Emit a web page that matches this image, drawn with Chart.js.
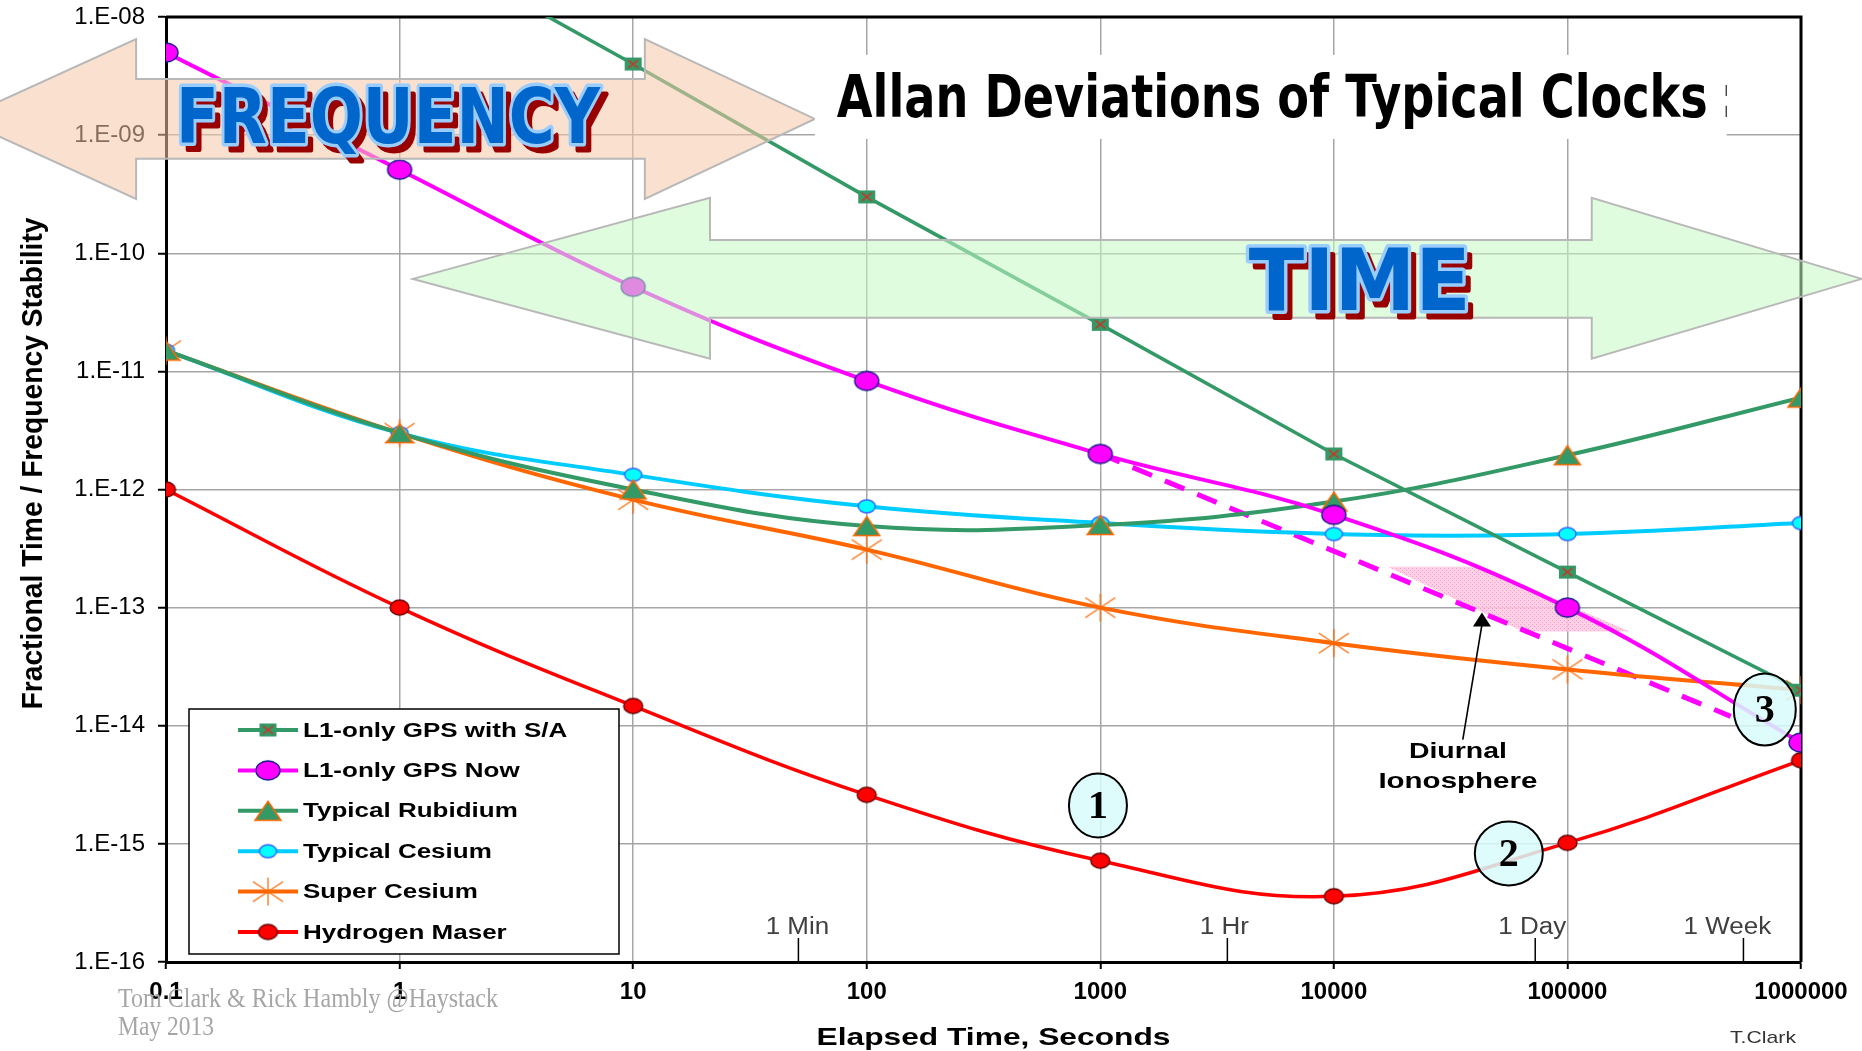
<!DOCTYPE html>
<html>
<head>
<meta charset="utf-8">
<title>Allan Deviations of Typical Clocks</title>
<script src="https://cdn.jsdelivr.net/npm/chart.js@4.4.1/dist/chart.umd.min.js"></script>
<style>
    html, body { margin: 0; padding: 0; background: #fff; }
    #wrap { width: 1862px; height: 1051px; }
</style>
</head>
<body>
<div id="wrap"><canvas id="allan" width="1862" height="1051"></canvas></div>
<script>
// averaging time (seconds)
var tauSeconds = [0.1, 1, 10, 100, 1000, 10000, 100000, 1000000];

// Allan deviations
var gpsWithSA     = [null, 5.0e-8, 4.0e-9, 3.0e-10, 2.5e-11, 2.0e-12, 2.0e-13, 2.0e-14];
var gpsNow        = [5.0e-9, 5.1e-10, 5.2e-11, 8.3e-12, 2.0e-12, 6.1e-13, 1.0e-13, 7.2e-15];
var rubidium      = [1.5e-11, 3.0e-12, 1.0e-12, 4.9e-13, 5.0e-13, 7.9e-13, 1.95e-12, 6.0e-12];
var cesium        = [1.5e-11, 3.0e-12, 1.33e-12, 7.2e-13, 5.2e-13, 4.2e-13, 4.2e-13, 5.2e-13];
var superCesium   = [1.5e-11, 3.0e-12, 8.2e-13, 3.1e-13, 1.0e-13, 5.0e-14, 3.0e-14, 2.0e-14];
var hydrogenMaser = [1.0e-12, 1.0e-13, 1.47e-14, 2.6e-15, 7.2e-16, 3.6e-16, 1.02e-15, 5.1e-15];

// dashed L1 trend below the diurnal ionosphere bump
var ionoTrendTau = [1000, 500000];
var ionoTrendDev = [2.0e-12, 1.2e-14];

var seriesNames = ['L1-only GPS with S/A', 'L1-only GPS Now', 'Typical Rubidium',
                   'Typical Cesium', 'Super Cesium', 'Hydrogen Maser'];

var xTickValues = [0.1, 1, 10, 100, 1000, 10000, 100000, 1000000];
var xTickLabels = ['0.1', '1', '10', '100', '1000', '10000', '100000', '1000000'];
var yTickValues = [1e-16, 1e-15, 1e-14, 1e-13, 1e-12, 1e-11, 1e-10, 1e-9, 1e-8];
var yTickLabels = ['1.E-16', '1.E-15', '1.E-14', '1.E-13', '1.E-12', '1.E-11', '1.E-10', '1.E-09', '1.E-08'];

// human time marks along the bottom axis
var timeMarkSeconds = [51, 3500, 72800, 567000];
var timeMarkLabels = ['1 Min', '1 Hr', '1 Day', '1 Week'];

(function() {
    /**
     * Build a small canvas used as a point style.
     */
    function makeMarker(w, h, paint) {
        var c = document.createElement('canvas');
        c.width = w;
        c.height = h;
        paint(c.getContext('2d'), w / 2, h / 2);
        return c;
    }

    function ellipseMarker(rx, ry, fill, stroke) {
        return makeMarker(Math.ceil(rx * 2 + 4), Math.ceil(ry * 2 + 4), function(g, cx, cy) {
            g.beginPath();
            g.ellipse(cx, cy, rx, ry, 0, 0, Math.PI * 2);
            g.fillStyle = fill;
            g.fill();
            g.lineWidth = 1.4;
            g.strokeStyle = stroke;
            g.stroke();
        });
    }

    var markSA = makeMarker(19, 15, function(g, cx, cy) {
        g.fillStyle = '#339966';
        g.fillRect(1, 1, 17, 13);
        g.strokeStyle = '#e8231f';
        g.lineWidth = 1.2;
        g.beginPath();
        g.moveTo(cx - 5, cy - 4); g.lineTo(cx + 5, cy + 4);
        g.moveTo(cx + 5, cy - 4); g.lineTo(cx - 5, cy + 4);
        g.stroke();
    });
    var markNow = ellipseMarker(12, 9.5, '#ff00ff', '#1a1a8c');
    var markRb = makeMarker(30, 24, function(g, cx, cy) {
        g.beginPath();
        g.moveTo(cx, 2.5);
        g.lineTo(cx + 13, 21.5);
        g.lineTo(cx - 13, 21.5);
        g.closePath();
        g.fillStyle = '#339966';
        g.fill();
        g.lineWidth = 1.5;
        g.strokeStyle = '#ff6600';
        g.stroke();
    });
    var markCs = ellipseMarker(8.5, 6.5, '#00ffff', '#3366ff');
    var markSC = makeMarker(34, 32, function(g, cx, cy) {
        g.strokeStyle = '#ff6600';
        g.lineWidth = 1.2;
        g.beginPath();
        g.moveTo(cx, cy - 14); g.lineTo(cx, cy + 14);
        g.moveTo(cx - 15, cy - 10); g.lineTo(cx + 15, cy + 10);
        g.moveTo(cx - 15, cy + 10); g.lineTo(cx + 15, cy - 10);
        g.stroke();
    });
    var markHM = ellipseMarker(9.5, 7.5, '#ff0000', '#660000');

    function points(xs, ys) {
        return xs.map(function(x, i) { return {x: x, y: ys[i]}; });
    }

    function series(label, data, color, width, marker, tension) {
        return {
            label: label,
            data: points(tauSeconds, data),
            borderColor: color,
            backgroundColor: color,
            borderWidth: width,
            pointStyle: marker,
            pointRadius: 10,
            tension: tension
        };
    }

    // decoration positions are given in decades: [log10(seconds), log10(deviation)]
    var freqArrow = {tipL: -1.878, baseL: -1.128, baseR: 1.05, tipR: 1.778,
                     headTop: -8.186, shaftTop: -8.525, mid: -8.863, shaftBot: -9.201, headBot: -9.540};
    var timeArrow = {tipL: 0.057, baseL: 1.329, baseR: 5.104, tipR: 6.26,
                     headTop: -9.531, shaftTop: -9.887, mid: -10.217, shaftBot: -10.547, headBot: -10.893};
    var ionoPatch = [[4.230, -12.653], [4.625, -12.653], [5.267, -13.203], [4.809, -13.203]];
    var ionoPointer = {tip: [4.634, -13.042], tail: [4.552, -14.117]};
    var circled = [
        {text: '1', at: [2.99, -14.675], rx: 29, ry: 32},
        {text: '2', at: [4.749, -15.081], rx: 34, ry: 32},
        {text: '3', at: [5.845, -13.863], rx: 31, ry: 36}
    ];

    function X(chart, lx) { return chart.scales.x.getPixelForValue(Math.pow(10, lx)); }
    function Y(chart, ly) { return chart.scales.y.getPixelForValue(Math.pow(10, ly)); }

    /**
     * Fill text squeezed or stretched horizontally.
     */
    function stretchText(ctx, text, x, y, font, color, align, opt) {
        opt = opt || {};
        ctx.save();
        ctx.font = font;
        ctx.fillStyle = color;
        ctx.textAlign = 'left';
        ctx.textBaseline = opt.baseline || 'alphabetic';
        var w = ctx.measureText(text).width;
        var sx = opt.width ? opt.width / w : (opt.sx || 1);
        var shift = align === 'center' ? -w * sx / 2 : (align === 'right' ? -w * sx : 0);
        ctx.translate(x + shift, y);
        ctx.scale(sx, 1);
        ctx.fillText(text, 0, 0);
        ctx.restore();
    }

    function drawDoubleArrow(ctx, chart, a, fill) {
        var tl = X(chart, a.tipL), bl = X(chart, a.baseL), br = X(chart, a.baseR), tr = X(chart, a.tipR);
        var ht = Y(chart, a.headTop), st = Y(chart, a.shaftTop), m = Y(chart, a.mid),
            sb = Y(chart, a.shaftBot), hb = Y(chart, a.headBot);
        ctx.save();
        ctx.beginPath();
        ctx.moveTo(tl, m);
        ctx.lineTo(bl, ht);
        ctx.lineTo(bl, st);
        ctx.lineTo(br, st);
        ctx.lineTo(br, ht);
        ctx.lineTo(tr, m);
        ctx.lineTo(br, hb);
        ctx.lineTo(br, sb);
        ctx.lineTo(bl, sb);
        ctx.lineTo(bl, hb);
        ctx.closePath();
        ctx.fillStyle = fill;
        ctx.fill();
        ctx.lineWidth = 2;
        ctx.strokeStyle = '#b8b8b8';
        ctx.stroke();
        ctx.restore();
    }

    function drawWordArt(ctx, text, left, right, baseline, cap) {
        var size = cap / 0.73;
        ctx.save();
        ctx.font = 'bold ' + size + 'px "DejaVu Sans"';
        var w = ctx.measureText(text).width;
        var sx = (right - left) / w;
        ctx.translate(left, baseline);
        ctx.scale(sx, 1);
        ctx.lineJoin = 'round';
        ctx.fillStyle = '#990000';
        ctx.strokeStyle = '#990000';
        ctx.lineWidth = 5;
        ctx.strokeText(text, 6 / sx, 7);
        ctx.fillText(text, 6 / sx, 7);
        ctx.strokeStyle = '#99ccff';
        ctx.lineWidth = 7;
        ctx.strokeText(text, 0, 0);
        ctx.fillStyle = '#0066cc';
        ctx.fillText(text, 0, 0);
        ctx.restore();
    }

    function hatchPattern(ctx) {
        var c = document.createElement('canvas');
        c.width = 4;
        c.height = 4;
        var g = c.getContext('2d');
        g.fillStyle = '#ffc8e2';
        g.fillRect(0, 0, 4, 4);
        g.fillStyle = '#f48cc0';
        g.fillRect(0, 0, 1, 1);
        g.fillRect(2, 2, 1, 1);
        return ctx.createPattern(c, 'repeat');
    }

    var decorPlugin = {
        id: 'decor',
        beforeDraw: function(chart) {
            var ctx = chart.ctx;
            ctx.save();
            ctx.fillStyle = '#fff';
            ctx.fillRect(0, 0, chart.width, chart.height);
            ctx.restore();
        },
        beforeDatasetsDraw: function(chart) {
            var ctx = chart.ctx, ca = chart.chartArea;

            // diurnal ionosphere patch
            ctx.save();
            ctx.beginPath();
            ionoPatch.forEach(function(p, i) {
                var px = X(chart, p[0]), py = Y(chart, p[1]);
                if (i === 0) ctx.moveTo(px, py); else ctx.lineTo(px, py);
            });
            ctx.closePath();
            ctx.globalAlpha = 0.85;
            ctx.fillStyle = hatchPattern(ctx);
            ctx.fill();
            ctx.restore();

            // top and right frame
            ctx.save();
            ctx.strokeStyle = '#000';
            ctx.lineWidth = 3;
            ctx.beginPath();
            ctx.moveTo(ca.left, ca.top);
            ctx.lineTo(ca.right, ca.top);
            ctx.lineTo(ca.right, ca.bottom);
            ctx.stroke();
            ctx.restore();
        },
        afterDatasetsDraw: function(chart) {
            var ctx = chart.ctx, ca = chart.chartArea;

            // big frequency / time arrows
            drawDoubleArrow(ctx, chart, freqArrow, 'rgba(245, 200, 168, 0.55)');
            drawDoubleArrow(ctx, chart, timeArrow, 'rgba(196, 250, 196, 0.55)');
            drawWordArt(ctx, 'FREQUENCY', X(chart, -0.957), X(chart, 0.858), Y(chart, -9.066), 56);
            drawWordArt(ctx, 'TIME', X(chart, 3.636), X(chart, 4.586), Y(chart, -10.479), 62);

            // title box
            var bx = X(chart, 1.778), bx2 = X(chart, 5.682), by = Y(chart, -8.321), by2 = Y(chart, -9.032);
            ctx.save();
            ctx.fillStyle = '#fff';
            ctx.fillRect(bx, by, bx2 - bx, by2 - by);
            stretchText(ctx, 'Allan Deviations of Typical Clocks', X(chart, 1.872), Y(chart, -8.846),
                'bold 58px "DejaVu Sans"', '#000', 'left', {width: X(chart, 5.601) - X(chart, 1.872)});
            ctx.beginPath();
            ctx.rect(bx, by, bx2 - bx, by2 - by);
            ctx.clip();
            stretchText(ctx, ':', X(chart, 5.655), Y(chart, -8.846), 'bold 58px "DejaVu Sans"', '#000', 'left', {sx: 0.8});
            ctx.restore();

            // diurnal ionosphere pointer and caption
            var tx = X(chart, ionoPointer.tip[0]), ty = Y(chart, ionoPointer.tip[1]);
            var lx = X(chart, ionoPointer.tail[0]), ly = Y(chart, ionoPointer.tail[1]);
            ctx.save();
            ctx.strokeStyle = '#000';
            ctx.lineWidth = 1.6;
            ctx.beginPath();
            ctx.moveTo(lx, ly);
            ctx.lineTo(tx, ty + 12);
            ctx.stroke();
            ctx.fillStyle = '#000';
            ctx.beginPath();
            ctx.moveTo(tx, ty);
            ctx.lineTo(tx + 9, ty + 14);
            ctx.lineTo(tx - 9, ty + 14);
            ctx.closePath();
            ctx.fill();
            ctx.restore();
            stretchText(ctx, 'Diurnal', X(chart, 4.531), Y(chart, -14.277), 'bold 22px "Liberation Sans"', '#000', 'center', {width: 98});
            stretchText(ctx, 'Ionosphere', X(chart, 4.531), Y(chart, -14.523), 'bold 22px "Liberation Sans"', '#000', 'center', {width: 159});

            // circled numbers
            circled.forEach(function(c) {
                var cx = X(chart, c.at[0]), cy = Y(chart, c.at[1]);
                ctx.save();
                ctx.beginPath();
                ctx.ellipse(cx, cy, c.rx, c.ry, 0, 0, Math.PI * 2);
                ctx.fillStyle = 'rgba(216, 252, 252, 0.85)';
                ctx.fill();
                ctx.lineWidth = 2;
                ctx.strokeStyle = '#000';
                ctx.stroke();
                ctx.font = 'bold 40px "Liberation Serif"';
                ctx.fillStyle = '#000';
                ctx.textAlign = 'center';
                ctx.textBaseline = 'middle';
                ctx.fillText(c.text, cx, cy + 2);
                ctx.restore();
            });

            // legend
            var lg = {left: ca.left + 23, top: ca.bottom - 253, width: 430, height: 245};
            ctx.save();
            ctx.fillStyle = '#fff';
            ctx.fillRect(lg.left, lg.top, lg.width, lg.height);
            ctx.lineWidth = 1.5;
            ctx.strokeStyle = '#000';
            ctx.strokeRect(lg.left, lg.top, lg.width, lg.height);
            chart.data.datasets.slice(0, seriesNames.length).forEach(function(ds, i) {
                var ry = lg.top + 21 + i * 40.4;
                ctx.strokeStyle = ds.borderColor;
                ctx.lineWidth = 4;
                ctx.beginPath();
                ctx.moveTo(lg.left + 49, ry);
                ctx.lineTo(lg.left + 109, ry);
                ctx.stroke();
                var m = ds.pointStyle;
                ctx.drawImage(m, lg.left + 79 - m.width / 2, ry - m.height / 2);
                stretchText(ctx, ds.label, lg.left + 114, ry + 1, 'bold 20px "Liberation Sans"', '#000', 'left',
                    {baseline: 'middle', sx: 1.3});
            });
            ctx.restore();

            // minute / hour / day / week marks
            var labelShift = [-1, -3, -3, -16];
            timeMarkSeconds.forEach(function(s, i) {
                var px = chart.scales.x.getPixelForValue(s);
                ctx.save();
                ctx.strokeStyle = '#000';
                ctx.lineWidth = 1.5;
                ctx.beginPath();
                ctx.moveTo(px, ca.bottom);
                ctx.lineTo(px, ca.bottom - 24);
                ctx.stroke();
                ctx.restore();
                stretchText(ctx, timeMarkLabels[i], px + labelShift[i], ca.bottom - 28, '23px "Liberation Sans"', '#404040', 'center', {sx: 1.13});
            });

            // axis titles
            ctx.save();
            ctx.font = 'bold 29px "Liberation Sans"';
            var tw = ctx.measureText('Fractional Time / Frequency Stability').width;
            ctx.translate(42, (ca.top + ca.bottom) / 2 - 26);
            ctx.rotate(-Math.PI / 2);
            ctx.scale(492 / tw, 1);
            ctx.fillStyle = '#000';
            ctx.textAlign = 'center';
            ctx.fillText('Fractional Time / Frequency Stability', 0, 0);
            ctx.restore();
            stretchText(ctx, 'Elapsed Time, Seconds', (ca.left + ca.right) / 2 + 10, ca.bottom + 83,
                'bold 24px "Liberation Sans"', '#000', 'center', {width: 354});

            // credits
            stretchText(ctx, 'Tom Clark & Rick Hambly @Haystack', 118, ca.bottom + 45, '27px "Liberation Serif"', '#a6a6a6', 'left', {width: 380});
            stretchText(ctx, 'May 2013', 118, ca.bottom + 73, '27px "Liberation Serif"', '#a6a6a6', 'left', {width: 96});
            stretchText(ctx, 'T.Clark', ca.right - 71, ca.bottom + 81, '17px "Liberation Sans"', '#333', 'left', {width: 66});
        }
    };

    var datasets = [
        series(seriesNames[0], gpsWithSA, '#339966', 3.5, markSA, 0),
        series(seriesNames[1], gpsNow, '#ff00ff', 4, markNow, 0.4),
        series(seriesNames[2], rubidium, '#339966', 4, markRb, 0.4),
        series(seriesNames[3], cesium, '#00ccff', 4, markCs, 0.4),
        series(seriesNames[4], superCesium, '#ff6600', 4, markSC, 0.4),
        series(seriesNames[5], hydrogenMaser, '#ff0000', 3.5, markHM, 0.4),
        {
            label: 'iono trend',
            data: points(ionoTrendTau, ionoTrendDev),
            borderColor: '#ff00ff',
            borderWidth: 5,
            borderDash: [21, 14],
            pointRadius: 0,
            tension: 0
        }
    ];

    Chart.defaults.font.family = '"Liberation Sans", Arial, sans-serif';

    new Chart(document.getElementById('allan'), {
        type: 'line',
        data: {datasets: datasets},
        options: {
            responsive: false,
            animation: false,
            devicePixelRatio: 1,
            layout: {padding: {top: 17, right: 61, left: 0, bottom: 0}},
            plugins: {
                legend: {display: false},
                tooltip: {enabled: false}
            },
            scales: {
                x: {
                    type: 'logarithmic',
                    min: 0.1,
                    max: 1000000,
                    afterBuildTicks: function(scale) {
                        scale.ticks = xTickValues.map(function(v) { return {value: v}; });
                    },
                    afterFit: function(scale) {
                        scale.height = 89;
                        scale.paddingLeft = 0;
                        scale.paddingRight = 0;
                    },
                    grid: {color: '#a6a6a6', lineWidth: 1.5, tickColor: '#000', tickLength: 7, tickWidth: 2},
                    border: {color: '#000', width: 3},
                    ticks: {
                        autoSkip: false,
                        maxRotation: 0,
                        padding: 9,
                        color: '#000',
                        font: {size: 24, weight: 'bold'},
                        callback: function(value, index) { return xTickLabels[index]; }
                    }
                },
                y: {
                    type: 'logarithmic',
                    min: 1e-16,
                    max: 1e-8,
                    afterBuildTicks: function(scale) {
                        scale.ticks = yTickValues.map(function(v) { return {value: v}; });
                    },
                    afterFit: function(scale) {
                        scale.width = 166;
                        scale.paddingTop = 0;
                        scale.paddingBottom = 0;
                    },
                    grid: {color: '#a6a6a6', lineWidth: 1.5, tickColor: '#000', tickLength: 8, tickWidth: 2},
                    border: {color: '#000', width: 3},
                    ticks: {
                        autoSkip: false,
                        padding: 13,
                        color: '#000',
                        font: {size: 24},
                        callback: function(value, index) { return yTickLabels[index]; }
                    }
                }
            }
        },
        plugins: [decorPlugin]
    });
}());
</script>
</body>
</html>
